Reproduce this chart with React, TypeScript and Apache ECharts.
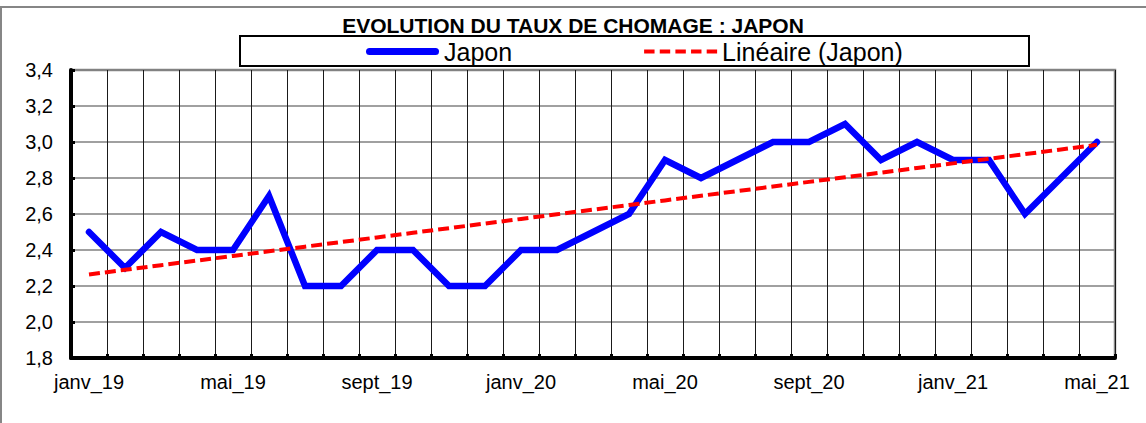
import React, { useEffect, useRef } from "react";
import * as echarts from "echarts";

const TITLE = "EVOLUTION DU TAUX DE CHOMAGE : JAPON";
const SERIES_NAME = "Japon";
const TREND_NAME = "Linéaire (Japon)";

const months = [
  "janv_19", "févr_19", "mars_19", "avr_19", "mai_19", "juin_19", "juil_19", "août_19",
  "sept_19", "oct_19", "nov_19", "déc_19",
  "janv_20", "févr_20", "mars_20", "avr_20", "mai_20", "juin_20", "juil_20", "août_20",
  "sept_20", "oct_20", "nov_20", "déc_20",
  "janv_21", "févr_21", "mars_21", "avr_21", "mai_21",
];

const japon = [
  2.5, 2.3, 2.5, 2.4, 2.4, 2.7, 2.2, 2.2, 2.4, 2.4, 2.2, 2.2,
  2.4, 2.4, 2.5, 2.6, 2.9, 2.8, 2.9, 3.0, 3.0, 3.1, 2.9, 3.0,
  2.9, 2.9, 2.6, 2.8, 3.0,
];

const yMin = 1.8;
const yMax = 3.4;
const yStep = 0.2;

// Excel-style linear trendline: least-squares fit of the series above
function linearTrend(values: number[]): number[] {
  const n = values.length;
  let sx = 0, sy = 0, sxy = 0, sxx = 0;
  values.forEach((y, i) => {
    sx += i; sy += y; sxy += i * y; sxx += i * i;
  });
  const slope = (n * sxy - sx * sy) / (n * sxx - sx * sx);
  const intercept = (sy - slope * sx) / n;
  return values.map((_, i) => intercept + slope * i);
}

const BLUE_ICON = "path://M3.5,0 H69.5 A3.5,3.5 0 0 1 69.5,7 H3.5 A3.5,3.5 0 0 1 3.5,0 Z";
const RED_ICON =
  "path://M0,0 h10 v4 h-10 Z M15,0 h10 v4 h-10 Z M30,0 h10 v4 h-10 Z M45,0 h10 v4 h-10 Z M60,0 h10 v4 h-10 Z";

export default function App() {
  const ref = useRef<HTMLDivElement>(null);

  useEffect(() => {
    if (!ref.current) return;
    const chart = echarts.init(ref.current, null, { renderer: "svg" });
    const trend = linearTrend(japon);
    const font = "'Liberation Sans', Arial, sans-serif";

    chart.setOption({
      animation: false,
      backgroundColor: "#ffffff",
      textStyle: { fontFamily: font },
      title: {
        text: TITLE,
        left: "center",
        top: 15,
        padding: 0,
        textStyle: { fontFamily: font, fontSize: 21, fontWeight: "bold", color: "#000", lineHeight: 21 },
      },
      graphic: [
        {
          type: "rect",
          z: -10,
          shape: { x: 1, y: 7, width: 1160, height: 430 },
          style: { fill: "#fff", stroke: "#868686", lineWidth: 2 },
          silent: true,
        },
        {
          type: "rect",
          z: 50,
          shape: { x: 240, y: 36, width: 789, height: 30 },
          style: { fill: "#fff", stroke: "#000", lineWidth: 2 },
          silent: true,
        },
      ],
      legend: {
        z: 60,
        left: 366,
        top: 39,
        padding: 0,
        itemWidth: 73,
        itemHeight: 8,
        itemGap: 132,
        textStyle: { fontFamily: font, fontSize: 25, color: "#000", lineHeight: 25 },
        data: [
          { name: SERIES_NAME, icon: BLUE_ICON, itemStyle: { color: "#0000ff" } },
          { name: TREND_NAME, icon: RED_ICON, itemStyle: { color: "#ff0000" } },
        ],
      },
      grid: {
        left: 71,
        top: 70,
        width: 1044,
        height: 288,
        show: true,
        borderColor: "#868686",
        borderWidth: 2.5,
        backgroundColor: "transparent",
      },
      xAxis: {
        type: "category",
        data: months,
        boundaryGap: true,
        axisLine: { show: true, lineStyle: { color: "#000", width: 4 } },
        axisTick: { show: true, inside: true, length: 4, interval: 0, lineStyle: { color: "#000", width: 3 } },
        splitLine: { show: true, interval: 0, lineStyle: { color: "#1a1a1a", width: 1 } },
        axisLabel: {
          interval: 3,
          margin: 14,
          color: "#000",
          fontSize: 20,
          fontFamily: font,
        },
      },
      yAxis: {
        type: "value",
        min: yMin,
        max: yMax,
        interval: yStep,
        axisLine: { show: true, lineStyle: { color: "#000", width: 4 } },
        axisTick: { show: true, inside: true, length: 4, lineStyle: { color: "#000", width: 3 } },
        splitLine: { show: true, lineStyle: { color: "#808080", width: 1.5 } },
        axisLabel: {
          margin: 18,
          color: "#000",
          fontSize: 20,
          fontFamily: font,
          formatter: (v: number) => v.toFixed(1).replace(".", ","),
        },
      },
      series: [
        {
          name: SERIES_NAME,
          type: "line",
          data: japon,
          symbol: "none",
          lineStyle: { color: "#0000ff", width: 6.5, join: "miter", cap: "round" },
          itemStyle: { color: "#0000ff" },
          z: 3,
        },
        {
          name: TREND_NAME,
          type: "line",
          data: trend,
          symbol: "none",
          lineStyle: { color: "#ff0000", width: 4, type: [11, 5] },
          itemStyle: { color: "#ff0000" },
          z: 4,
        },
      ],
    });

    return () => chart.dispose();
  }, []);

  return (
    <div
      ref={ref}
      style={{ position: "fixed", left: 0, top: 0, width: 1146, height: 423 }}
    />
  );
}
